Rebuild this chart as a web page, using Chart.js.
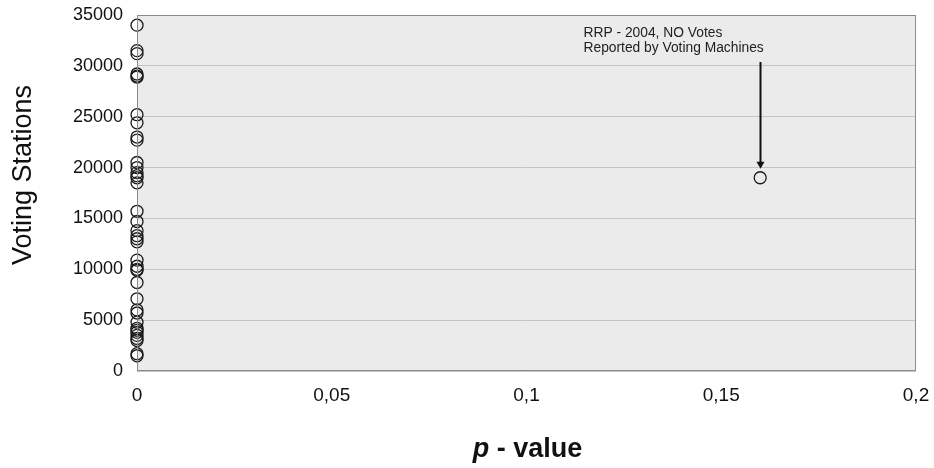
<!DOCTYPE html>
<html>
<head>
<meta charset="utf-8">
<script src="https://cdn.jsdelivr.net/npm/chart.js@4/dist/chart.umd.min.js"></script>
<style>
  html, body { margin: 0; padding: 0; background: #ffffff; }
  #wrap { width: 934px; height: 468px; }
</style>
</head>
<body>
<div id="wrap"><canvas id="c" width="934" height="468"></canvas></div>
<script>
// Referenda / elections: p-value vs number of voting stations
const stations = [34000, 31500, 31200, 29200, 29000, 28900, 25200, 24400, 23000, 22700,
                  20500, 20000, 19500, 19200, 19000, 18500, 15700, 14700, 13800, 13300,
                  13000, 12700, 10900, 10300, 10000, 9900, 8700, 7100, 6000, 5700,
                  4800, 4200, 4000, 3800, 3500, 3200, 3000, 1700, 1500];
const pValues  = [0, 0, 0, 0, 0, 0, 0, 0, 0, 0,
                  0, 0, 0, 0, 0, 0, 0, 0, 0, 0,
                  0, 0, 0, 0, 0, 0, 0, 0, 0, 0,
                  0, 0, 0, 0, 0, 0, 0, 0, 0];
const outlierP = [0.16];
const outlierStations = [19000];
const annotationLines = ["RRP - 2004, NO Votes", "Reported by Voting Machines"];
const yTitle = "Voting Stations";
const xTitleItalic = "p";
const xTitleRest = " - value";

const mainPoints = pValues.map((p, i) => ({ x: p, y: stations[i] }));
const outPoints = outlierP.map((p, i) => ({ x: p, y: outlierStations[i] }));

const FONT = "Liberation Sans, Arial, sans-serif";

const decor = {
  id: 'decor',
  beforeDraw(chart) {
    const { ctx, chartArea: a } = chart;
    ctx.save();
    ctx.fillStyle = '#ebebeb';
    ctx.fillRect(a.left, a.top, a.right - a.left, a.bottom - a.top);
    ctx.restore();
  },
  afterDatasetsDraw(chart) {
    const { ctx, chartArea: a } = chart;
    ctx.save();
    ctx.strokeStyle = '#8a8a8a';
    ctx.lineWidth = 1;
    ctx.strokeRect(a.left + 0.5, a.top + 0.5, a.right - a.left - 1, a.bottom - a.top - 1);
    ctx.restore();
  },
  afterDraw(chart) {
    const { ctx, scales, chartArea: a } = chart;
    ctx.save();
    const px = Math.round(scales.x.getPixelForValue(outlierP[0])) + 0.5;
    const py = scales.y.getPixelForValue(outlierStations[0]);
    const yStart = 62, yEnd = py - 9;
    ctx.strokeStyle = '#111';
    ctx.fillStyle = '#111';
    ctx.lineWidth = 2;
    ctx.beginPath();
    ctx.moveTo(px, yStart);
    ctx.lineTo(px, yEnd - 6);
    ctx.stroke();
    ctx.beginPath();
    ctx.moveTo(px - 4, yEnd - 7);
    ctx.lineTo(px + 4, yEnd - 7);
    ctx.lineTo(px, yEnd);
    ctx.closePath();
    ctx.fill();
    ctx.fillStyle = '#222';
    ctx.font = '13.8px ' + FONT;
    ctx.textAlign = 'left';
    ctx.textBaseline = 'middle';
    ctx.fillText(annotationLines[0], px - 177, 33);
    ctx.fillText(annotationLines[1], px - 177, 48);
    ctx.save();
    ctx.translate(24, 175);
    ctx.rotate(-Math.PI / 2);
    ctx.font = '27px ' + FONT;
    ctx.textAlign = 'center';
    ctx.textBaseline = 'middle';
    ctx.fillStyle = '#111';
    ctx.fillText(yTitle, 0, 0);
    ctx.restore();
    ctx.font = 'italic bold 27px ' + FONT;
    const w1 = ctx.measureText(xTitleItalic).width;
    ctx.font = 'bold 27px ' + FONT;
    const w2 = ctx.measureText(xTitleRest).width;
    const cx = (a.left + a.right) / 2 + 1;
    const x0 = cx - (w1 + w2) / 2;
    ctx.textAlign = 'left';
    ctx.textBaseline = 'alphabetic';
    ctx.fillStyle = '#111';
    ctx.font = 'italic bold 27px ' + FONT;
    ctx.fillText(xTitleItalic, x0, 457);
    ctx.font = 'bold 27px ' + FONT;
    ctx.fillText(xTitleRest, x0 + w1, 457);
    ctx.restore();
  }
};

new Chart(document.getElementById('c'), {
  type: 'scatter',
  data: {
    datasets: [
      { data: mainPoints, pointRadius: 6, pointHoverRadius: 6, pointBorderWidth: 1.3,
        pointBorderColor: '#1a1a1a', pointBackgroundColor: 'rgba(0,0,0,0)', clip: false },
      { data: outPoints, pointRadius: 6, pointHoverRadius: 6, pointBorderWidth: 1.3,
        pointBorderColor: '#1a1a1a', pointBackgroundColor: 'rgba(0,0,0,0)', clip: false }
    ]
  },
  options: {
    responsive: false,
    animation: false,
    devicePixelRatio: 1,
    layout: { autoPadding: false, padding: { left: 0, right: 18, top: 15, bottom: 0 } },
    plugins: { legend: { display: false }, tooltip: { enabled: false } },
    scales: {
      x: {
        type: 'linear', min: 0, max: 0.2,
        afterFit(s) { s.height = 97; s.paddingLeft = 0; s.paddingRight = 0; },
        grid: { display: false, drawTicks: false },
        border: { display: false },
        ticks: {
          stepSize: 0.05, padding: 13, color: '#111',
          font: { family: FONT, size: 19 },
          callback: v => String(Math.round(v * 100) / 100).replace('.', ',')
        }
      },
      y: {
        type: 'linear', min: 0, max: 35000,
        afterFit(s) { s.width = 137; s.paddingTop = 0; s.paddingBottom = 0; },
        grid: { color: '#c4c4c4', lineWidth: 1, drawTicks: false },
        border: { display: false },
        ticks: {
          stepSize: 5000, padding: 14, color: '#111',
          font: { family: FONT, size: 18 },
          callback: v => String(v)
        }
      }
    }
  },
  plugins: [decor]
});
</script>
</body>
</html>
